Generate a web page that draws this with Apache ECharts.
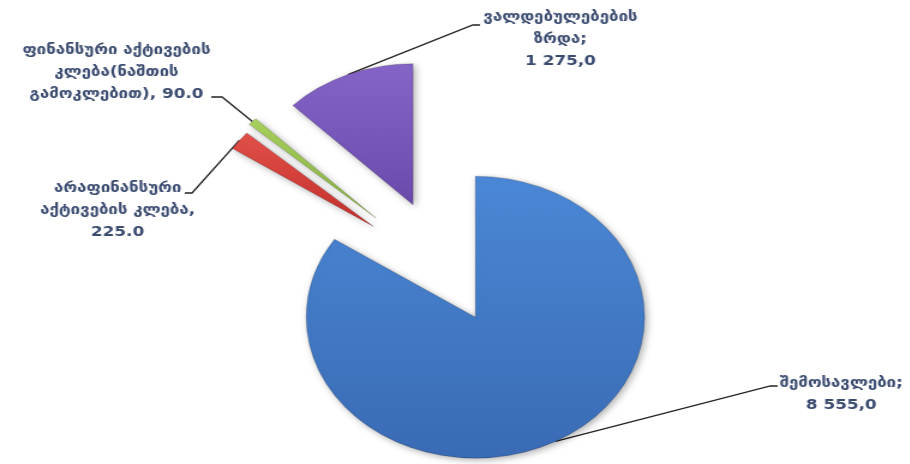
<!DOCTYPE html>
<html><head><meta charset="utf-8">
<script src="https://cdn.jsdelivr.net/npm/echarts@6/dist/echarts.min.js"></script>
<style>
html,body{margin:0;padding:0;background:#fff;overflow:hidden;width:910px;height:464px}
#wrap{width:910px;height:464px;overflow:hidden}
#chart{width:758px;height:464px;transform:scaleX(1.2);transform-origin:0 0}
</style>
</head><body><div id="wrap"><div id="chart"></div></div>
<script>
const categories = ['შემოსავლები', 'არაფინანსური აქტივების კლება', 'ფინანსური აქტივების კლება(ნაშთის გამოკლებით)', 'ვალდებულებების ზრდა'];
const values = [8555.0, 225.0, 90.0, 1275.0];
const labelTexts = [
  'შემოსავლები;\n8 555,0',
  'არაფინანსური\nაქტივების კლება,\n225.0',
  'ფინანსური აქტივების\nკლება(ნაშთის\nგამოკლებით), 90.0',
  'ვალდებულებების\nზრდა;\n1 275,0'
];
const colors = [
  ['#4b88d6', '#3a6bb5'],
  ['#e2504a', '#c4302b'],
  ['#a8d05e', '#86b042'],
  ['#8565c8', '#6a4aab']
];
const explode = [49, 78, 82, 75];
const pieCenter = [373, 274];
const pieRadius = 141;
const labelPos = [[701, 394], [98, 210], [97, 72], [467, 39]];
const labelElbow = [
  [[642, 386], [648, 386]],
  [[160, 193], [154, 193]],
  [[185, 97], [176, 97]],
  [[394, 25], [400, 25]]
];

const total = values.reduce((a, b) => a + b, 0);
let cum = 0;
const series = values.map((v, k) => {
  const mid = (cum + v / 2) / total * Math.PI * 2;
  cum += v;
  const cx = pieCenter[0] + explode[k] * Math.sin(mid);
  const cy = pieCenter[1] - explode[k] * Math.cos(mid);
  return {
    type: 'pie',
    center: [cx, cy],
    radius: [0, pieRadius],
    startAngle: 90,
    clockwise: true,
    avoidLabelOverlap: false,
    silent: true,
    animation: false,
    data: values.map((val, i) => ({
      name: categories[i],
      value: val,
      itemStyle: i === k ? {
        color: new echarts.graphic.LinearGradient(0, 0, 0, 1, [
          {offset: 0, color: colors[i][0]}, {offset: 1, color: colors[i][1]}
        ]),
        borderColor: 'rgba(0,0,0,0.18)',
        borderWidth: 1,
        shadowBlur: 6,
        shadowOffsetX: 2,
        shadowOffsetY: 2,
        shadowColor: 'rgba(0,0,0,0.3)'
      } : {color: 'rgba(0,0,0,0)', borderWidth: 0, shadowBlur: 0},
      label: i === k ? {
        show: true,
        formatter: labelTexts[i],
        color: '#3a4b70',
        fontFamily: 'DejaVu Sans',
        fontWeight: 'bold',
        fontSize: 14,
        lineHeight: 22,
        align: 'center'
      } : {show: false},
      labelLine: i === k ? {
        show: true,
        lineStyle: {color: '#222', width: 1.3}
      } : {show: false}
    })),
    labelLayout: function (p) {
      const i = p.dataIndex;
      const start = p.labelLinePoints ? p.labelLinePoints[0] : [0, 0];
      return {
        x: labelPos[i][0],
        y: labelPos[i][1],
        align: 'center',
        verticalAlign: 'middle',
        labelLinePoints: [start, labelElbow[i][0], labelElbow[i][1]]
      };
    }
  };
});

const chart = echarts.init(document.getElementById('chart'));
chart.setOption({backgroundColor: '#fff', animation: false, series: series});
</script>
</body></html>
